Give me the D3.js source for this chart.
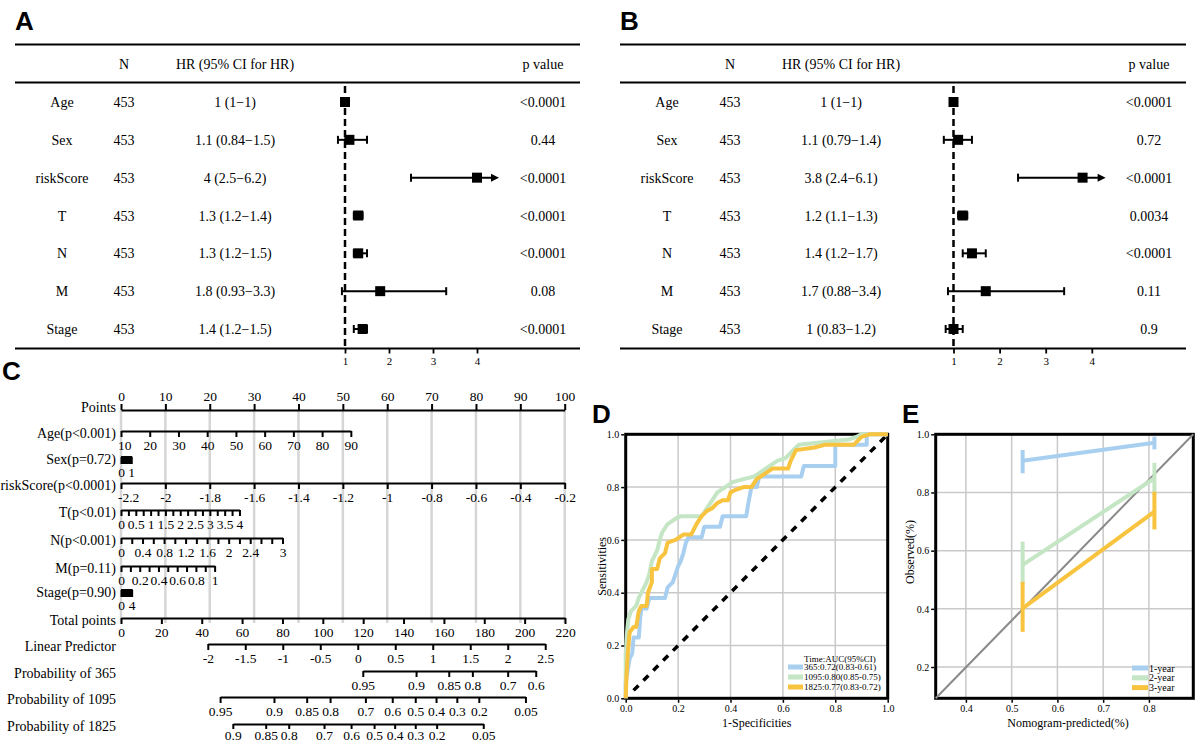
<!DOCTYPE html>
<html><head><meta charset="utf-8">
<script src="https://cdn.jsdelivr.net/npm/d3@7"></script>
<style>body{margin:0;background:#fff} svg{display:block}</style>
</head><body>
<svg id="chart" width="1199" height="745"></svg>
<script>
// ---------------- DATA ----------------
// Panels A / B (forest plots)
const forestVars = ["Age","Sex","riskScore","T","N","M","Stage"];
const forestN = [453,453,453,453,453,453,453];
const forestHeader = ["N","HR (95% CI for HR)","p value"];
const forestTicks = [1,2,3,4];
const hrA = [1, 1.1, 4, 1.3, 1.3, 1.8, 1.4];
const loA = [1, 0.84, 2.5, 1.2, 1.2, 0.93, 1.2];
const hiA = [1, 1.5, 6.2, 1.4, 1.5, 3.3, 1.5];
const pA  = ["<0.0001","0.44","<0.0001","<0.0001","<0.0001","0.08","<0.0001"];
const hrB = [1, 1.1, 3.8, 1.2, 1.4, 1.7, 1];
const loB = [1, 0.79, 2.4, 1.1, 1.2, 0.88, 0.83];
const hiB = [1, 1.4, 6.1, 1.3, 1.7, 3.4, 1.2];
const pB  = ["<0.0001","0.72","<0.0001","0.0034","<0.0001","0.11","0.9"];

// Panel C (nomogram)
const nomoLabels = ["Points","Age(p<0.001)","Sex(p=0.72)","riskScore(p<0.0001)","T(p<0.01)","N(p<0.001)","M(p=0.11)","Stage(p=0.90)","Total points","Linear Predictor","Probability of 365","Probability of 1095","Probability of 1825"];
const pointsTicks = [0,10,20,30,40,50,60,70,80,90,100];
const ageTicks = [10,20,30,40,50,60,70,80,90];
const ageDomain = [10,90], agePoints = [0,51.8];
const sexTicks = [0,1], sexPoints = [0,2.3];
const riskTicks = [-2.2,-2,-1.8,-1.6,-1.4,-1.2,-1,-0.8,-0.6,-0.4,-0.2];
const riskDomain = [-2.2,-0.2], riskPoints = [0,100];
const tTicks = [0,0.25,0.5,0.75,1,1.25,1.5,1.75,2,2.25,2.5,2.75,3,3.25,3.5,3.75,4];
const tLabels = [0,0.5,1,1.5,2,2.5,3,3.5,4];
const tDomain = [0,4], tPoints = [0,26.7];
const nTicks = [0,0.2,0.4,0.6,0.8,1,1.2,1.4,1.6,1.8,2,2.2,2.4,2.6,2.8,3];
const nLabels = [0,0.4,0.8,1.2,1.6,2,2.4,3];
const nDomain = [0,3], nPoints = [0,36.4];
const mTicks = [0,0.1,0.2,0.3,0.4,0.5,0.6,0.7,0.8,0.9,1];
const mLabels = [0,0.2,0.4,0.6,0.8,1];
const mDomain = [0,1], mPoints = [0,21.1];
const stageTicks = [0,4], stagePoints = [0,2.4];
const totalTicks = [0,20,40,60,80,100,120,140,160,180,200,220];
const lpTicks = [-2,-1.5,-1,-0.5,0,0.5,1,1.5,2,2.5];
const lpDomain = [-2,2.5], lpTotal = [43.0,210.2];
const p365Labels = ["0.95","0.9","0.85","0.8","0.7","0.6"];
const p365Total  = [119.8,146.2,162.4,174.1,191.6,205.5];
const p1095Labels = ["0.95","0.9","0.85","0.8","0.7","0.6","0.5","0.4","0.3","0.2","0.05"];
const p1095Total  = [49.1,75.8,92.0,103.6,121.1,134.4,145.8,156.1,166.4,177.3,200.4];
const p1825Labels = ["0.9","0.85","0.8","0.7","0.6","0.5","0.4","0.3","0.2","0.05"];
const p1825Total  = [55.4,71.7,83.1,100.6,114.0,125.4,135.6,145.8,156.4,179.5];

// Panel D (ROC) [1-specificity, sensitivity]
const rocNames = ["365:0.72(0.83-0.61)","1095:0.80(0.85-0.75)","1825:0.77(0.83-0.72)"];
const roc365 = [[0,0],[0,0.06],[0.01,0.12],[0.015,0.15],[0.025,0.17],[0.03,0.23],[0.05,0.23],[0.055,0.3],[0.06,0.34],[0.08,0.34],[0.09,0.38],[0.15,0.38],[0.16,0.42],[0.18,0.44],[0.19,0.47],[0.2,0.5],[0.21,0.52],[0.22,0.55],[0.23,0.59],[0.24,0.61],[0.29,0.61],[0.3,0.65],[0.36,0.65],[0.37,0.69],[0.46,0.69],[0.47,0.75],[0.48,0.8],[0.5,0.8],[0.51,0.84],[0.67,0.84],[0.68,0.88],[0.8,0.88],[0.8,0.96],[0.92,0.96],[0.92,1],[1,1]];
const roc1095 = [[0,0],[0,0.17],[0.005,0.25],[0.01,0.3],[0.02,0.33],[0.04,0.35],[0.05,0.38],[0.06,0.4],[0.07,0.42],[0.08,0.44],[0.09,0.47],[0.1,0.52],[0.12,0.56],[0.13,0.6],[0.14,0.63],[0.16,0.66],[0.19,0.68],[0.21,0.69],[0.29,0.69],[0.31,0.72],[0.33,0.75],[0.35,0.78],[0.38,0.8],[0.41,0.82],[0.45,0.83],[0.49,0.84],[0.52,0.86],[0.55,0.88],[0.58,0.9],[0.61,0.91],[0.63,0.93],[0.66,0.96],[0.75,0.97],[0.85,0.98],[0.88,0.99],[0.9,1],[1,1]];
const roc1825 = [[0,0],[0.003,0.08],[0.008,0.17],[0.015,0.25],[0.03,0.27],[0.04,0.27],[0.05,0.33],[0.06,0.35],[0.08,0.35],[0.085,0.4],[0.1,0.44],[0.1,0.49],[0.12,0.49],[0.13,0.53],[0.15,0.55],[0.16,0.59],[0.19,0.6],[0.22,0.62],[0.25,0.62],[0.27,0.66],[0.29,0.69],[0.31,0.71],[0.33,0.72],[0.35,0.74],[0.37,0.75],[0.39,0.75],[0.4,0.78],[0.42,0.79],[0.45,0.8],[0.48,0.8],[0.5,0.83],[0.53,0.85],[0.56,0.87],[0.62,0.87],[0.63,0.9],[0.64,0.92],[0.65,0.94],[0.72,0.95],[0.76,0.96],[0.87,0.96],[0.9,0.99],[0.93,1],[1,1]];
const rocDiag = [[0.03,0.03],[1,1]];
const rocTicks = [0,0.2,0.4,0.6,0.8,1];

// Panel E (calibration)
const calNames = ["1-year","2-year","3-year"];
const calX = [0.524, 0.812];
const cal1 = [0.909, 0.971], cal1Lo = [0.866, 0.948], cal1Hi = [0.946, 0.992];
const cal2 = [0.551, 0.849], cal2Lo = [0.49, 0.79],  cal2Hi = [0.631, 0.902];
const cal3 = [0.402, 0.734], cal3Lo = [0.321, 0.673], cal3Hi = [0.493, 0.803];
const calXDomain = [0.334, 0.897], calYDomain = [0.0925, 1.0];
const calXTicks = [0.4,0.5,0.6,0.7,0.8], calYTicks = [0.2,0.4,0.6,0.8,1.0];

const colors = ["#A8CFF0","#C4E6C4","#F8C33E"];

// ---------------- DRAW ----------------
const svg = d3.select("#chart");
const serif = "'Liberation Serif','Times New Roman',serif";
const sans = "'Liberation Sans',Arial,sans-serif";

function letter(t, x, y) {
  svg.append("text").attr("x", x).attr("y", y).text(t)
    .attr("font-family", sans).attr("font-weight", "bold").attr("font-size", 26).attr("fill", "#000");
}
function txt(g, t, x, y, size, anchor) {
  return g.append("text").attr("x", x).attr("y", y).text(t)
    .attr("font-family", serif).attr("font-size", size).attr("text-anchor", anchor || "middle").attr("fill", "#000");
}

// ---- Forest plots ----
function drawForest(o) {
  const g = svg.append("g");
  const y = d3.scalePoint().domain(forestVars).range([102, 329]);
  const x = d3.scaleLinear().domain([1, 4]).range(o.xr);
  [44.5, 82.5, 348.5].forEach(yy => g.append("line").attr("x1", o.left).attr("x2", o.right)
    .attr("y1", yy).attr("y2", yy).attr("stroke", "#000").attr("stroke-width", 2));
  txt(g, forestHeader[0], o.cN, 68.5, 14);
  txt(g, forestHeader[1], o.cHR, 68.5, 14);
  txt(g, forestHeader[2], o.cP, 68.5, 14);
  g.append("line").attr("x1", x(1)).attr("x2", x(1)).attr("y1", 86).attr("y2", 348)
    .attr("stroke", "#000").attr("stroke-width", 2.5).attr("stroke-dasharray", "7,4");
  forestVars.forEach((v, i) => {
    const yy = y(v);
    txt(g, v, o.cLab, yy + 5, 14);
    txt(g, forestN[i], o.cN, yy + 5, 14);
    txt(g, `${o.hr[i]} (${o.lo[i]}\u2212${o.hi[i]})`, o.cHR, yy + 5, 14);
    txt(g, o.p[i], o.cP, yy + 5, 14);
    const lo = o.lo[i], hi = o.hi[i];
    if (hi > lo) {
      const xe = hi > o.maxV ? x(o.maxV) - 6 : x(hi);
      g.append("line").attr("x1", x(lo)).attr("x2", xe).attr("y1", yy).attr("y2", yy)
        .attr("stroke", "#000").attr("stroke-width", 2);
      g.append("line").attr("x1", x(lo)).attr("x2", x(lo)).attr("y1", yy - 4).attr("y2", yy + 4)
        .attr("stroke", "#000").attr("stroke-width", 2);
      if (hi > o.maxV) {
        const xa = x(o.maxV);
        g.append("path").attr("d", `M${xa},${yy} L${xa - 8},${yy - 4} L${xa - 8},${yy + 4} Z`).attr("fill", "#000");
      } else {
        g.append("line").attr("x1", x(hi)).attr("x2", x(hi)).attr("y1", yy - 4).attr("y2", yy + 4)
          .attr("stroke", "#000").attr("stroke-width", 2);
      }
    }
    g.append("rect").attr("x", x(o.hr[i]) - 5).attr("y", yy - 5).attr("width", 10).attr("height", 10).attr("fill", "#000");
  });
  const ax = g.append("g").attr("transform", "translate(0,348.5)")
    .call(d3.axisBottom(x).tickValues(forestTicks).tickSize(5).tickPadding(4).tickFormat(d3.format("d")));
  ax.select(".domain").remove();
  ax.selectAll(".tick line").attr("stroke-width", 1.8);
  ax.selectAll("text").attr("font-family", serif).attr("font-size", 11);
}
letter("A", 15, 30);
drawForest({left: 15, right: 580, cLab: 62, cN: 124, cHR: 235, cP: 543, xr: [345, 477], maxV: 4.5, hr: hrA, lo: loA, hi: hiA, p: pA});
letter("B", 620, 30);
drawForest({left: 620, right: 1186, cLab: 667, cN: 730, cHR: 841, cP: 1149, xr: [953.5, 1091.8], maxV: 4.3, hr: hrB, lo: loB, hi: hiB, p: pB});

// ---- Nomogram ----
letter("C", 2, 380);
const nomoY = [410, 431, 457, 483, 510, 538, 566, 590, 618, 644, 671, 697, 724];
const ptsX = d3.scaleLinear().domain([0, 100]).range([121, 564.7]);
const totX = d3.scaleLinear().domain([0, 220]).range([121, 565]);
const gC = svg.append("g");
pointsTicks.forEach(p => gC.append("line").attr("x1", ptsX(p)).attr("x2", ptsX(p)).attr("y1", 410).attr("y2", 623)
  .attr("stroke", "#d6d6d6").attr("stroke-width", 2.5));
nomoLabels.forEach((l, i) => txt(gC, l, 116, nomoY[i] + (i === 0 ? 2 : 7), 14, "end"));

function has(arr, d) { return arr.some(v => Math.abs(v - d) < 1e-9); }
function nomoAxis(row, scale, ticks, fmt, opts) {
  opts = opts || {};
  const axis = (opts.top ? d3.axisTop(scale) : d3.axisBottom(scale))
    .tickValues(ticks).tickSize(opts.tick || 6).tickSizeOuter(0).tickPadding(opts.pad || 3).tickFormat(fmt);
  const g = gC.append("g").attr("transform", `translate(0,${nomoY[row]})`).call(axis);
  g.select(".domain").attr("stroke", "#000").attr("stroke-width", 2);
  g.selectAll(".tick line").attr("stroke", "#000").attr("stroke-width", 2);
  g.selectAll("text").attr("font-family", serif).attr("font-size", 13.5).attr("fill", "#000");
  g.selectAll(".tick").each(function () {
    const t = d3.select(this).select("text");
    const node = t.node();
    if (!node || !t.text()) return;
    const w = node.getComputedTextLength();
    const tr = d3.select(this).attr("transform");
    const tx = +tr.match(/translate\(([-\d.]+)/)[1];
    if (tx - w / 2 < 118) t.attr("x", 118 + w / 2 - tx);
  });
  return g;
}
function varScale(dom, pts) { return d3.scaleLinear().domain(dom).range(pts.map(ptsX)); }
const num = d => String(+d.toFixed(4));

nomoAxis(0, ptsX, pointsTicks, num, {top: true});
nomoAxis(1, varScale(ageDomain, agePoints), ageTicks, num);
[[2, sexTicks, sexPoints], [7, stageTicks, stagePoints]].forEach(([row, tk, pts]) => {
  const sc = varScale(tk, pts);
  gC.append("rect").attr("x", sc(tk[0])).attr("y", nomoY[row] - 1).attr("width", sc(tk[1]) - sc(tk[0]) + 1).attr("height", 8).attr("fill", "#000");
  nomoAxis(row, sc, tk, num, {tick: 7});
});
nomoAxis(3, varScale(riskDomain, riskPoints), riskTicks, num);
nomoAxis(4, varScale(tDomain, tPoints), tTicks, d => has(tLabels, d) ? num(d) : "");
nomoAxis(5, varScale(nDomain, nPoints), nTicks, d => has(nLabels, d) ? num(d) : "");
nomoAxis(6, varScale(mDomain, mPoints), mTicks, d => has(mLabels, d) ? num(d) : "");
nomoAxis(8, totX, totalTicks, num);
nomoAxis(9, d3.scaleLinear().domain(lpDomain).range(lpTotal.map(totX)), lpTicks, num);
[[10, p365Total, p365Labels], [11, p1095Total, p1095Labels], [12, p1825Total, p1825Labels]].forEach(([row, tot, lab]) => {
  const sc = d3.scaleLinear().domain(d3.extent(tot)).range(d3.extent(tot).map(totX));
  nomoAxis(row, sc, tot, d => lab[tot.indexOf(d)], row === 12 ? {tick: 5, pad: 1} : {});
});

// ---- Panel D: ROC ----
letter("D", 592, 423);
const gD = svg.append("g");
const xD = d3.scaleLinear().domain([0, 1]).range([625.7, 887.7]);
const yD = d3.scaleLinear().domain([0, 1]).range([698.3, 434.3]);
const gridV = [0.2, 0.4, 0.6, 0.8];
gridV.forEach(v => {
  gD.append("line").attr("x1", xD(v)).attr("x2", xD(v)).attr("y1", yD(0)).attr("y2", yD(1)).attr("stroke", "#c9c9c9").attr("stroke-width", 1.5);
  gD.append("line").attr("x1", xD(0)).attr("x2", xD(1)).attr("y1", yD(v)).attr("y2", yD(v)).attr("stroke", "#c9c9c9").attr("stroke-width", 1.5);
});
gD.append("rect").attr("x", xD(0)).attr("y", yD(1)).attr("width", xD(1) - xD(0)).attr("height", yD(0) - yD(1))
  .attr("fill", "none").attr("stroke", "#000").attr("stroke-width", 3);
const lineD = d3.line().x(d => xD(d[0])).y(d => yD(d[1]));
gD.append("path").attr("d", lineD(rocDiag)).attr("stroke", "#000").attr("stroke-width", 3.5).attr("stroke-dasharray", "7,7").attr("fill", "none");
[roc365, roc1095, roc1825].forEach((r, i) => gD.append("path").attr("d", lineD(r)).attr("fill", "none")
  .attr("stroke", colors[i]).attr("stroke-width", 4).attr("stroke-linejoin", "round"));
function styleAxis(g) {
  g.select(".domain").remove();
  g.selectAll(".tick line").attr("stroke", "#000").attr("stroke-width", 1.5);
  g.selectAll("text").attr("font-family", serif).attr("font-size", 10).attr("fill", "#000");
}
styleAxis(gD.append("g").attr("transform", `translate(0,${yD(0) + 1.5})`)
  .call(d3.axisBottom(xD).tickValues(rocTicks).tickSize(3).tickPadding(2).tickFormat(d3.format(".1f"))));
styleAxis(gD.append("g").attr("transform", `translate(${xD(0) - 1.5},0)`)
  .call(d3.axisLeft(yD).tickValues(rocTicks).tickSize(3).tickPadding(2).tickFormat(d3.format(".1f"))));
txt(gD, "1-Specificities", (xD(0) + xD(1)) / 2, 726.5, 12);
txt(gD, "Sensitivities", 0, 0, 12).attr("transform", `translate(606,${(yD(0) + yD(1)) / 2}) rotate(-90)`);
txt(gD, "Time:AUC(95%CI)", 804, 661.5, 9, "start");
rocNames.forEach((n, i) => {
  const yy = 667 + i * 10;
  gD.append("rect").attr("x", 788).attr("y", yy - 2.5).attr("width", 15).attr("height", 5).attr("fill", colors[i]);
  txt(gD, n, 804, yy + 3.2, 9, "start");
});

// ---- Panel E: calibration ----
letter("E", 902, 423);
const gE = svg.append("g");
const xE = d3.scaleLinear().domain(calXDomain).range([935.7, 1193.3]);
const yE = d3.scaleLinear().domain(calYDomain).range([698.3, 434.3]);
calXTicks.forEach(v => gE.append("line").attr("x1", xE(v)).attr("x2", xE(v)).attr("y1", yE.range()[0]).attr("y2", yE.range()[1]).attr("stroke", "#c9c9c9").attr("stroke-width", 1.5));
calYTicks.slice(0, -1).forEach(v => gE.append("line").attr("x1", xE.range()[0]).attr("x2", xE.range()[1]).attr("y1", yE(v)).attr("y2", yE(v)).attr("stroke", "#c9c9c9").attr("stroke-width", 1.5));
gE.append("rect").attr("x", 935.7).attr("y", 434.3).attr("width", 1193.3 - 935.7).attr("height", 698.3 - 434.3)
  .attr("fill", "none").attr("stroke", "#000").attr("stroke-width", 3);
gE.append("line").attr("x1", xE(calXDomain[0])).attr("y1", yE(calYDomain[0])).attr("x2", xE(calXDomain[1])).attr("y2", yE(calYDomain[1]))
  .attr("stroke", "#8a8a8a").attr("stroke-width", 2);
[[cal1, cal1Lo, cal1Hi], [cal2, cal2Lo, cal2Hi], [cal3, cal3Lo, cal3Hi]].forEach(([v, lo, hi], i) => {
  gE.append("path").attr("d", d3.line().x((d, j) => xE(calX[j])).y(d => yE(d))(v)).attr("stroke", colors[i]).attr("stroke-width", 4).attr("fill", "none");
  calX.forEach((cx, j) => gE.append("line").attr("x1", xE(cx)).attr("x2", xE(cx)).attr("y1", yE(lo[j])).attr("y2", yE(hi[j]))
    .attr("stroke", colors[i]).attr("stroke-width", 4));
});
styleAxis(gE.append("g").attr("transform", `translate(0,${698.3 + 1.5})`)
  .call(d3.axisBottom(xE).tickValues(calXTicks).tickSize(3).tickPadding(2).tickFormat(d3.format(".1f"))));
styleAxis(gE.append("g").attr("transform", `translate(${935.7 - 1.5},0)`)
  .call(d3.axisLeft(yE).tickValues(calYTicks).tickSize(3).tickPadding(2).tickFormat(d3.format(".1f"))));
txt(gE, "Nomogram-predicted(%)", 1068, 726.5, 12);
txt(gE, "Observed(%)", 0, 0, 12).attr("transform", `translate(914,552) rotate(-90)`);
calNames.forEach((n, i) => {
  const yy = 668 + i * 9.8;
  gE.append("rect").attr("x", 1132).attr("y", yy - 2.5).attr("width", 16).attr("height", 5).attr("fill", colors[i]);
  txt(gE, n, 1149, yy + 3.5, 10, "start");
});
</script>
</body></html>
